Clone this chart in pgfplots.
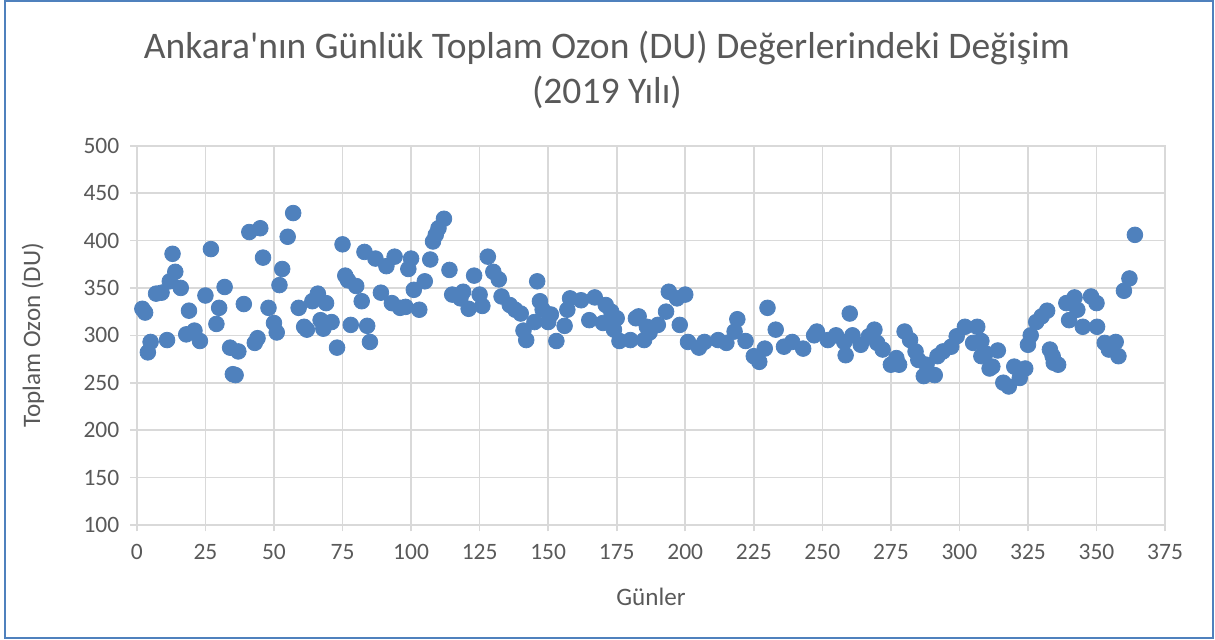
\documentclass[border=0pt]{standalone}
\usepackage{fontspec}
\setmainfont{Carlito}
\newfontfamily\plainfont{Carlito}
\usepackage{pgfplots}
\pgfplotsset{compat=1.18}
\definecolor{txtgray}{HTML}{595959}
\definecolor{gridgray}{HTML}{D9D9D9}
\definecolor{markblue}{HTML}{4F81BD}
\definecolor{framecol}{HTML}{4F81BD}
\begin{document}
\begin{tikzpicture}
\path (0,0) rectangle (450pt,237pt);
\draw[framecol, line width=0.6pt] (1.9pt,0.6pt) rectangle (449.2pt,236.6pt);
\node[align=center, text=txtgray, font=\fontsize{13.9}{16.7}\selectfont] at (224.8pt,211.0pt)
  {Ankara{\plainfont '}nın Günlük Toplam Ozon (DU) Değerlerindeki Değişim\\(2019 Yılı)};
\begin{axis}[
  at={(50.7pt,42.6pt)}, anchor=south west,
  width=380.8pt, height=140.4pt, scale only axis,
  xmin=0, xmax=375, ymin=100, ymax=500,
  xtick distance=25, ytick distance=50,
  enlargelimits=false,
  grid=major,
  major grid style={gridgray, line width=0.6pt},
  axis line style={gridgray, line width=0.6pt},
  tick align=outside, major tick length=2.4pt,
  tick style={gridgray, line width=0.6pt},
  xtick pos=bottom, ytick pos=left,
  /pgf/number format/assume math mode=true,
  ticklabel style={font=\fontsize{8.7}{10.4}\selectfont, text=txtgray},
  xticklabel style={yshift=-1.2pt},
  yticklabel style={xshift=-0.6pt},
  xlabel={Günler}, ylabel={Toplam Ozon (DU)},
  label style={font=\fontsize{9.3}{11.2}\selectfont, text=txtgray},
  xlabel style={at={(axis description cs:0.5,-0.19)}, anchor=center},
  ylabel style={at={(axis description cs:-0.101,0.5)}, anchor=center},
  clip=false,
]
\addplot[only marks, mark=*, mark size=2.9pt, mark options={fill=markblue, draw=markblue, line width=0.3pt}] coordinates {
(2,328)(3,324)(4,282)(5,293)(7,344)(9,345)(11,295)(12,357)(13,386)(14,367)
(16,350)(18,301)(19,326)(21,305)(23,294)(25,342)(27,391)(29,312)(30,329)(32,351)
(34,287)(35,259)(36,258)(37,283)(39,333)(41,409)(43,292)(44,297)(45,413)(46,382)
(48,329)(50,313)(51,303)(52,353)(53,370)(55,404)(57,429)(59,329)(61,309)(62,306)
(64,336)(66,344)(67,316)(68,307)(69,334)(71,314)(73,287)(75,396)(76,363)(77,358)
(78,311)(80,352)(82,336)(83,388)(84,310)(85,293)(87,381)(89,345)(91,373)(93,334)
(94,383)(96,329)(98,330)(99,370)(100,381)(101,348)(103,327)(105,357)(107,380)(108,399)
(109,406)(110,413)(112,423)(114,369)(115,343)(118,339)(119,346)(121,328)(123,363)(125,343)
(126,331)(128,383)(130,367)(132,359)(133,341)(136,332)(138,327)(140,323)(141,305)(142,295)
(145,314)(146,357)(147,336)(148,327)(150,314)(151,322)(153,294)(156,310)(157,327)(158,339)
(162,337)(165,316)(167,340)(170,313)(171,332)(173,325)(174,306)(175,318)(176,294)(180,295)
(182,318)(183,320)(185,295)(186,309)(187,303)(190,311)(193,325)(194,346)(197,339)(198,311)
(200,343)(201,293)(205,287)(207,293)(212,295)(215,292)(218,304)(219,317)(222,294)(225,278)
(227,272)(229,286)(230,329)(233,306)(236,288)(239,293)(243,286)(247,300)(248,304)(252,295)
(255,300)(258,293)(258.5,279)(260,323)(261,300)(264,290)(267,299)(269,306)(270,292)(272,285)
(275,269)(277,276)(278,269)(280,304)(282,295)(284,283)(285,274)(287,257)(288,269)(291,258)
(292,278)(294,283)(297,288)(299,299)(302,309)(305,292)(306.5,309)(308,294)(308,278)(309.5,281)
(311,265)(312,267)(314,284)(316,250)(318,246)(320,267)(322,255)(324,265)(325,290)(326,300)
(328,314)(330,320)(332,326)(333,285)(334,278)(334.4,271)(336,269)(339,334)(340,316)(342,340)
(343,327)(345,309)(348,341)(350,334)(350.2,309)(353,292)(354.5,285)(357,293)(358,278)(360,347)
(362,360)(364,406)
};
\end{axis}
\end{tikzpicture}
\end{document}
